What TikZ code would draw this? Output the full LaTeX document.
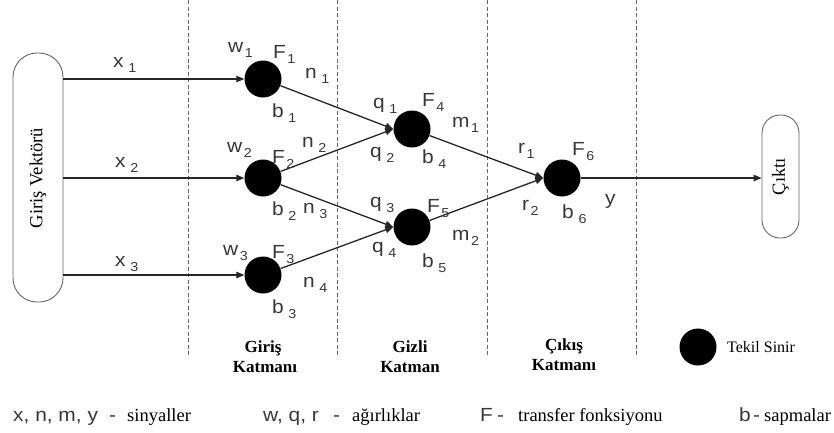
\documentclass[tikz,border=0pt]{standalone}
\usepackage{fontspec}
\setmainfont{Liberation Serif}
\newfontfamily\labfont[FakeStretch=1.1]{Liberation Sans}
\usetikzlibrary{arrows.meta}

% subscript set a little below the baseline, as on the labels
\newcommand\lsub[1]{\hspace{1.5pt}\raisebox{-5pt}{\fontsize{13}{13}\selectfont #1}}

\tikzset{
  neuron/.style={circle, fill=black, minimum size=37pt, inner sep=0pt},
  link/.style={line width=1.3pt, draw=black!85, -{Triangle[length=8pt,width=6.5pt]}},
  sep/.style={draw=black!60, line width=0.8pt, dash pattern=on 4pt off 2.5pt},
  lab/.style={anchor=base west, inner sep=0pt, font=\labfont\fontsize{19}{19}\selectfont, text=black!78},
  vecbox/.style={draw=black!60, line width=0.9pt, inner sep=0pt},
  serif/.style={inner sep=0pt, font=\fontsize{18.5}{20}\selectfont},
  layer/.style={inner sep=0pt, font=\bfseries\fontsize{17}{20}\selectfont, align=center},
  legtxt/.style={anchor=base west, inner sep=0pt, font=\fontsize{18.5}{20}\selectfont},
}

\begin{document}
\begin{tikzpicture}[x=1pt, y=-1pt]
\useasboundingbox (0,0) rectangle (834,432);

% layer separators
\foreach \xx [count=\i] in {188,337,487,636}
  \draw[sep] (\xx,0) coordinate (s\i top) -- (\xx,355) coordinate (s\i bot);

% input and output vectors
\node[vecbox, rounded corners=24pt, minimum width=50pt, minimum height=249pt] (inp) at (38,177.5) {};
\node[serif, rotate=90] (inptxt) at (38,178) {Giriş Vektörü};
\node[vecbox, rounded corners=18pt, minimum width=37pt, minimum height=123pt] (out) at (780.5,176.5) {};
\node[serif, rotate=90] (outtxt) at (780.5,176.5) {Çıktı};

% neurons
\node[neuron] (n1) at (263,79) {};
\node[neuron] (n2) at (263,178) {};
\node[neuron] (n3) at (263,275) {};
\node[neuron] (n4) at (412,129) {};
\node[neuron] (n5) at (412,227) {};
\node[neuron] (n6) at (562,178) {};

% connections
\draw[link] (inp.east |- n1) -- (n1);
\draw[link] (inp.east |- n2) -- (n2);
\draw[link] (inp.east |- n3) -- (n3);
\draw[link] (n1) -- (n4.west);
\draw[link] (n2) -- (n4.west);
\draw[link] (n2) -- (n5.west);
\draw[link] (n3) -- (n5.west);
\draw[link] (n4) -- (n6.west);
\draw[link] (n5) -- (n6.west);
\draw[link] (n6) -- (n6 -| out.west);

% signal, weight, transfer and bias labels
\node[lab] (lx1) at (113,67)  {x\,\lsub{1}};
\node[lab] (lx2) at (115,167) {x\,\lsub{2}};
\node[lab] (lx3) at (115,266) {x\,\lsub{3}};

\node[lab] (lw1) at (228,52)  {w\lsub{1}};
\node[lab] (lF1) at (273,58)  {F\lsub{1}};
\node[lab] (ln1) at (305,78)  {n\,\lsub{1}};
\node[lab] (lb1) at (272,117) {b\,\lsub{1}};

\node[lab] (lw2) at (227,152) {w\lsub{2}};
\node[lab] (lF2) at (272,163) {F\lsub{2}};
\node[lab] (ln2) at (302,147) {n\,\lsub{2}};
\node[lab] (lb2) at (272,215) {b\,\lsub{2}};
\node[lab] (ln3) at (303,213) {n\,\lsub{3}};

\node[lab] (lw3) at (223,255) {w\lsub{3}};
\node[lab] (lF3) at (272,258) {F\lsub{3}};
\node[lab] (ln4) at (303,287) {n\,\lsub{4}};
\node[lab] (lb3) at (272,313) {b\,\lsub{3}};

\node[lab] (lq1) at (373,108) {q\,\lsub{1}};
\node[lab] (lF4) at (422,106) {F\lsub{4}};
\node[lab] (lm1) at (452,127) {m\lsub{1}};
\node[lab] (lq2) at (370,157) {q\,\lsub{2}};
\node[lab] (lb4) at (422,163) {b\,\lsub{4}};

\node[lab] (lq3) at (370,207) {q\,\lsub{3}};
\node[lab] (lF5) at (427,212) {F\lsub{5}};
\node[lab] (lq4) at (372,252) {q\,\lsub{4}};
\node[lab] (lm2) at (452,240) {m\lsub{2}};
\node[lab] (lb5) at (422,267) {b\,\lsub{5}};

\node[lab] (lr1) at (518,153) {r\lsub{1}};
\node[lab] (lF6) at (572,155) {F\lsub{6}};
\node[lab] (lr2) at (522,210) {r\lsub{2}};
\node[lab] (lb6) at (562,218) {b\,\lsub{6}};
\node[lab] (ly)  at (605,204) {y};

% layer names
\node[layer] (lay1) at (263,357) {Giriş\\\hspace{4pt}Katmanı};
\node[layer] (lay2) at (410,357) {Gizli\\Katman};
\node[layer] (lay3) at (564,355) {Çıkış\\Katmanı};

% single-neuron key
\node[neuron] (keyn) at (698,347) {};
\node[anchor=west, inner sep=0pt, font=\fontsize{16}{18}\selectfont] (keytxt) at (727,347) {Tekil Sinir};

% legend
\node[lab] (k1) at (13,421)  {x, n, m, y};
\node[lab] (k1d) at (109,421) {-};
\node[legtxt] (k1t) at (127,421) {sinyaller};

\node[lab] (k2) at (263,421) {w, q, r};
\node[lab] (k2d) at (333,421) {-};
\node[legtxt] (k2t) at (352,421) {ağırlıklar};

\node[lab] (k3) at (480,421) {F};
\node[lab] (k3d) at (497,421) {-};
\node[legtxt] (k3t) at (518,421) {transfer fonksiyonu};

\node[lab] (k4) at (739,421) {b};
\node[lab] (k4d) at (753,421) {-};
\node[legtxt] (k4t) at (764,421) {sapmalar};
\end{tikzpicture}
\end{document}
